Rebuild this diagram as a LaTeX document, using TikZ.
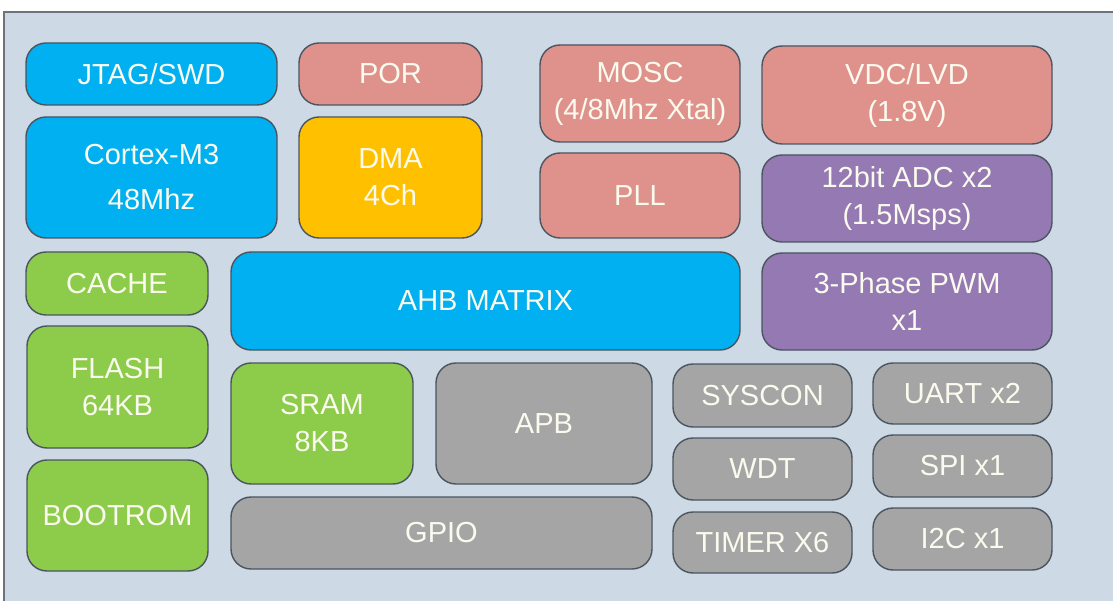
\documentclass[tikz,border=0pt]{standalone}
\usepackage{fontspec}
\setmainfont{Liberation Sans}
\usepackage{tikz}

\definecolor{cbg}{HTML}{CDDAE6}
\definecolor{cframe}{HTML}{6E747A}
\definecolor{cline}{HTML}{4A5560}
\definecolor{cblue}{HTML}{00B0F0}
\definecolor{cpink}{HTML}{DF928C}
\definecolor{cyell}{HTML}{FFC000}
\definecolor{cgreen}{HTML}{8DCB4B}
\definecolor{cpurp}{HTML}{9579B2}
\definecolor{cgray}{HTML}{A5A5A5}
\definecolor{ctext}{HTML}{FAFAEE}

\begin{document}
\begin{tikzpicture}[x=1pt,y=-1pt,
  blk/.style={draw=cline,line width=1.4pt,rounded corners=20pt,text=ctext,
    align=center,inner sep=0pt,font=\fontsize{29}{37}\selectfont}]
\useasboundingbox (0,0) rectangle (1113,601);
\fill[cbg] (4,12) rectangle (1113,601);
\draw[cframe,line width=2pt] (4,601) -- (4,12) -- (1113,12);
% top rows
\node[blk,fill=cblue,minimum width=251,minimum height=62] (jtag) at (151.5,74) {JTAG/SWD};
\node[blk,fill=cpink,minimum width=183,minimum height=62] (por) at (390.5,74) {POR};
\node[blk,fill=cpink,minimum width=200,minimum height=97] (mosc) at (640,93.5) {MOSC\\(4/8Mhz Xtal)};
\node[blk,fill=cpink,minimum width=290,minimum height=98] (vdc) at (907,95) {VDC/LVD\\(1.8V)};
\node[blk,fill=cblue,minimum width=251,minimum height=121] (cortex) at (151.5,177.5) {Cortex-M3\\[8pt]48Mhz};
\node[blk,fill=cyell,minimum width=183,minimum height=121] (dma) at (390.5,177.5) {DMA\\4Ch};
\node[blk,fill=cpink,minimum width=200,minimum height=85] (pll) at (640,195.5) {PLL};
\node[blk,fill=cpurp,minimum width=290,minimum height=87] (adc) at (907,198.5) {12bit ADC x2\\(1.5Msps)};
% bus row
\node[blk,fill=cgreen,minimum width=182,minimum height=63] (cache) at (117,283.5) {CACHE};
\node[blk,fill=cblue,minimum width=509,minimum height=98] (ahb) at (485.5,301) {AHB MATRIX};
\node[blk,fill=cpurp,minimum width=290,minimum height=97] (pwm) at (907,301.5) {3-Phase PWM\\x1};
% memories
\node[blk,fill=cgreen,minimum width=181,minimum height=122] (flash) at (117.5,387) {FLASH\\64KB};
\node[blk,fill=cgreen,minimum width=181,minimum height=111] (bootrom) at (117.5,515.5) {BOOTROM};
\node[blk,fill=cgreen,minimum width=182,minimum height=121] (sram) at (322,423.5) {SRAM\\8KB};
% peripherals
\node[blk,fill=cgray,minimum width=216,minimum height=121] (apb) at (544,423.5) {APB};
\node[blk,fill=cgray,minimum width=421,minimum height=72] (gpio) at (441.5,533) {GPIO};
\node[blk,fill=cgray,minimum width=179,minimum height=63] (syscon) at (762.5,395.5) {SYSCON};
\node[blk,fill=cgray,minimum width=179,minimum height=62] (wdt) at (762.5,469) {WDT};
\node[blk,fill=cgray,minimum width=179,minimum height=61] (timer) at (762.5,542.5) {TIMER X6};
\node[blk,fill=cgray,minimum width=179,minimum height=61] (uart) at (962.5,393.5) {UART x2};
\node[blk,fill=cgray,minimum width=179,minimum height=62] (spi) at (962.5,466) {SPI x1};
\node[blk,fill=cgray,minimum width=179,minimum height=62] (itc) at (962.5,539) {I2C x1};
\end{tikzpicture}
\end{document}
